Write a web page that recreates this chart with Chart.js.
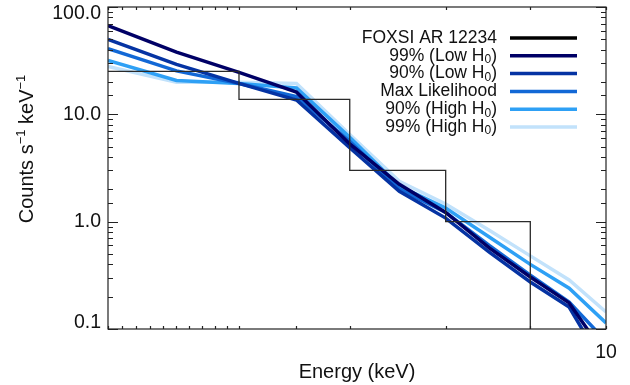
<!DOCTYPE html>
<html>
<head>
<meta charset="utf-8">
<script src="https://cdn.jsdelivr.net/npm/chart.js@4.4.1/dist/chart.umd.min.js"></script>
<style>
  html, body { margin: 0; padding: 0; background: #fff; }
</style>
</head>
<body>
<canvas id="spectrumChart" width="630" height="385"></canvas>
<script>
// energies (keV) where the model curves are sampled
const energies = [5, 5.5, 6, 6.5, 7, 7.5, 8, 8.5, 9, 9.5, 10];

// FOXSI histogram: bin edges and counts per bin (last bin empty)
const binEdges = [5, 6, 7, 8, 9, 10];
const foxsiCounts = [25.1, 13.8, 3.0, 1.0, 0];

// model spectra (counts s^-1 keV^-1)
const lowH99 = [67, 38, 24.6, 16.1, 5.3, 2.23, 1.22, 0.57, 0.305, 0.175, 0.056];
const lowH90 = [50, 29.2, 19.4, 13.6, 4.9, 1.92, 1.08, 0.52, 0.274, 0.16, 0.042];
const maxLike = [41, 25.4, 19.4, 14.6, 5.6, 2.01, 1.22, 0.60, 0.318, 0.178, 0.077];
const highH90 = [31.8, 20.7, 19.4, 17.6, 6.1, 2.14, 1.34, 0.72, 0.40, 0.24, 0.114];
const highH99 = [28, 19.9, 19.9, 19.4, 6.5, 2.38, 1.46, 0.83, 0.48, 0.286, 0.144];

// tick labels
const yMajorTicks = [0.1, 1, 10, 100];
const yMajorLabels = ['0.1', '1.0', '10.0', '100.0'];
const xMajorTicks = [10];
const xMajorLabels = ['10'];

const FONT = '"Liberation Sans", Arial, Helvetica, sans-serif';

const colors = {
    foxsi: '#2a2a2a',
    lowH99: '#000066',
    lowH90: '#0533a3',
    maxLike: '#1268d6',
    highH90: '#2ea0f5',
    highH99: '#c2e2fb'
};

function curve(values) {
    return energies.map((e, i) => ({ x: e, y: values[i] }));
}

// empty bins can't sit on a log axis, push them below the plot (clipped)
const histPoints = binEdges.map((e, i) => {
    const c = foxsiCounts[Math.min(i, foxsiCounts.length - 1)];
    return { x: e, y: c > 0 ? c : 1e-3 };
});

function isMajor(v) {
    const l = Math.log10(v);
    return Math.abs(l - Math.round(l)) < 1e-6;
}

// IDL-like box with inward ticks, y labels, y title and legend
const idlFrame = {
    id: 'idlFrame',
    afterDraw(chart) {
        const { ctx, chartArea: a, scales: { x, y } } = chart;
        ctx.save();
        ctx.strokeStyle = '#222';
        ctx.lineWidth = 1.2;
        ctx.strokeRect(a.left, a.top, a.right - a.left, a.bottom - a.top);

        ctx.beginPath();
        y.ticks.forEach(t => {
            const py = Math.round(y.getPixelForValue(t.value)) + 0.5;
            const len = isMajor(t.value) ? 10 : 5;
            ctx.moveTo(a.left, py); ctx.lineTo(a.left + len, py);
            ctx.moveTo(a.right, py); ctx.lineTo(a.right - len, py);
        });
        x.ticks.forEach(t => {
            const px = Math.round(x.getPixelForValue(t.value)) + 0.5;
            ctx.moveTo(px, a.bottom); ctx.lineTo(px, a.bottom - 3);
            ctx.moveTo(px, a.top); ctx.lineTo(px, a.top + 3);
        });
        ctx.stroke();

        // y tick labels (end labels kept inside the box, as IDL does)
        ctx.fillStyle = '#111';
        ctx.font = '19.5px ' + FONT;
        ctx.textAlign = 'right';
        ctx.textBaseline = 'middle';
        yMajorTicks.forEach((v, i) => {
            let py = y.getPixelForValue(v);
            py = Math.min(Math.max(py, a.top + 7), a.bottom - 6);
            ctx.fillText(yMajorLabels[i], 101, py);
        });

        // y axis title with superscripts
        ctx.save();
        ctx.translate(33, 149);
        ctx.rotate(-Math.PI / 2);
        ctx.textAlign = 'left';
        ctx.textBaseline = 'alphabetic';
        const parts = [['Counts s', false], ['\u22121', true], [' keV', false], ['\u22121', true]];
        const fNorm = '20px ' + FONT, fSup = '13px ' + FONT;
        let total = 0;
        parts.forEach(p => { ctx.font = p[1] ? fSup : fNorm; total += ctx.measureText(p[0]).width; });
        let cx = -total / 2;
        parts.forEach(p => {
            ctx.font = p[1] ? fSup : fNorm;
            ctx.fillText(p[0], cx, p[1] ? -8 : 0);
            cx += ctx.measureText(p[0]).width;
        });
        ctx.restore();

        // legend: right-aligned text, line sample on the right
        const fLeg = '17.5px ' + FONT, fSub = '12px ' + FONT;
        chart.data.datasets.forEach((ds, i) => {
            const ry = 38 + i * 17.8;
            const segs = ds.label.split('\u2080');
            ctx.textBaseline = 'middle';
            ctx.textAlign = 'left';
            let w = 0;
            const pieces = [];
            segs.forEach((s, k) => {
                pieces.push([s, false]);
                if (k < segs.length - 1) pieces.push(['0', true]);
            });
            pieces.forEach(p => { ctx.font = p[1] ? fSub : fLeg; w += ctx.measureText(p[0]).width; });
            let lx = 497 - w;
            ctx.fillStyle = '#111';
            pieces.forEach(p => {
                ctx.font = p[1] ? fSub : fLeg;
                ctx.fillText(p[0], lx, p[1] ? ry + 4 : ry);
                lx += ctx.measureText(p[0]).width;
            });
            ctx.strokeStyle = ds.legendColor;
            ctx.lineWidth = 3.5;
            ctx.beginPath();
            ctx.moveTo(510, ry);
            ctx.lineTo(577, ry);
            ctx.stroke();
        });
        ctx.restore();
    }
};

function modelSet(label, values, color) {
    return {
        label: label,
        data: curve(values),
        borderColor: color,
        legendColor: color,
        borderWidth: 3.5,
        pointRadius: 0,
        fill: false,
        tension: 0
    };
}

new Chart(document.getElementById('spectrumChart'), {
    type: 'line',
    data: {
        datasets: [
            {
                label: 'FOXSI AR 12234',
                data: histPoints,
                stepped: true,
                borderColor: colors.foxsi,
                legendColor: '#000',
                borderWidth: 1.3,
                pointRadius: 0,
                fill: false
            },
            modelSet('99% (Low H\u2080)', lowH99, colors.lowH99),
            modelSet('90% (Low H\u2080)', lowH90, colors.lowH90),
            modelSet('Max Likelihood', maxLike, colors.maxLike),
            modelSet('90% (High H\u2080)', highH90, colors.highH90),
            modelSet('99% (High H\u2080)', highH99, colors.highH99)
        ]
    },
    options: {
        responsive: false,
        animation: false,
        layout: { padding: { top: 7, right: 24, left: 0, bottom: 0 }, autoPadding: false },
        plugins: { legend: { display: false }, tooltip: { enabled: false } },
        scales: {
            x: {
                type: 'logarithmic',
                min: 5,
                max: 10,
                grid: { display: false },
                border: { display: false },
                ticks: {
                    autoSkip: false,
                    maxRotation: 0,
                    padding: 4,
                    color: '#111',
                    font: { family: FONT, size: 19.5 },
                    callback: v => {
                        const k = xMajorTicks.indexOf(v);
                        return k >= 0 ? xMajorLabels[k] : '';
                    }
                },
                title: {
                    display: true,
                    text: 'Energy (keV)',
                    color: '#111',
                    font: { family: FONT, size: 20 },
                    padding: { top: 0, bottom: 1 }
                },
                afterFit: s => { s.height = 56; }
            },
            y: {
                type: 'logarithmic',
                min: 0.1,
                max: 100,
                grid: { display: false },
                border: { display: false },
                ticks: { display: false },
                afterFit: s => { s.width = 108; }
            }
        }
    },
    plugins: [idlFrame]
});
</script>
</body>
</html>
